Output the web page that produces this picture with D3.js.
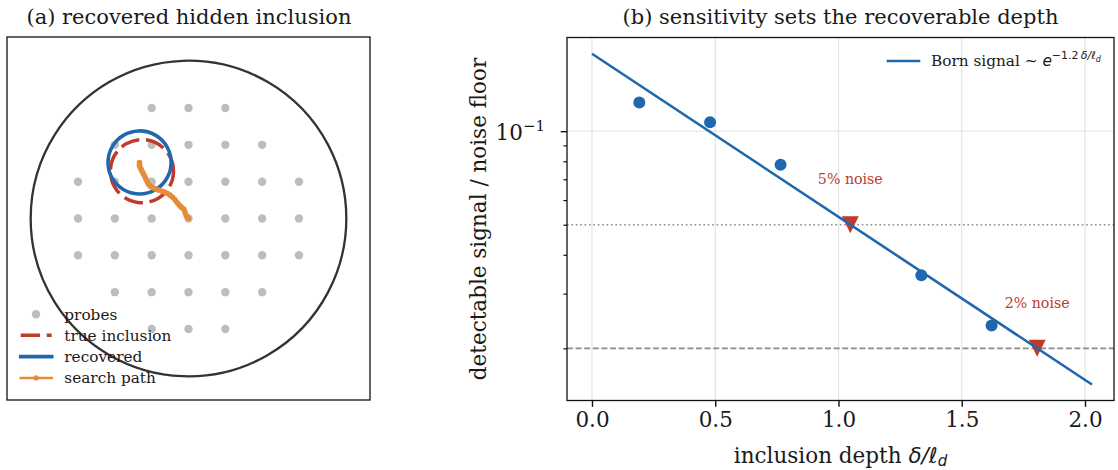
<!DOCTYPE html>
<html>
<head>
<meta charset="utf-8">
<script src="https://cdn.jsdelivr.net/npm/d3@7"></script>
<style>
  body { margin: 0; background: #fff; }
  svg { display: block; }
  text { font-family: "DejaVu Serif", serif; fill: #1a1a1a; }
</style>
</head>
<body>
<svg id="fig" width="1118" height="470"></svg>
<script>
// ---------- panel (a): probe layout and recovered inclusion ----------
const probeX = [
  -0.2333, 0, 0.2333,
  -0.4667, -0.2333, 0, 0.2333, 0.4667,
  -0.7, -0.4667, -0.2333, 0, 0.2333, 0.4667, 0.7,
  -0.7, -0.4667, -0.2333, 0, 0.2333, 0.4667, 0.7,
  -0.7, -0.4667, -0.2333, 0, 0.2333, 0.4667, 0.7,
  -0.4667, -0.2333, 0, 0.2333, 0.4667,
  -0.2333, 0, 0.2333
];
const probeY = [
  0.7, 0.7, 0.7,
  0.4667, 0.4667, 0.4667, 0.4667, 0.4667,
  0.2333, 0.2333, 0.2333, 0.2333, 0.2333, 0.2333, 0.2333,
  0, 0, 0, 0, 0, 0, 0,
  -0.2333, -0.2333, -0.2333, -0.2333, -0.2333, -0.2333, -0.2333,
  -0.4667, -0.4667, -0.4667, -0.4667, -0.4667,
  -0.7, -0.7, -0.7
];
const domainCircle = [0, 0, 1.0];          // cx, cy, r
const trueInclusion = [-0.295, 0.30, 0.20];
const recoveredInclusion = [-0.31, 0.355, 0.20];
const pathX = [0, -0.008, -0.016, -0.022, -0.029, -0.039, -0.049, -0.060, -0.071, -0.085, -0.100, -0.117, -0.134,
               -0.152, -0.170, -0.191, -0.212, -0.229, -0.244, -0.254, -0.261, -0.269, -0.276, -0.285, -0.293,
               -0.300, -0.307, -0.311, -0.31];
const pathY = [0, 0.010, 0.022, 0.040, 0.058, 0.066, 0.075, 0.087, 0.100, 0.118, 0.134, 0.148, 0.160,
               0.168, 0.174, 0.181, 0.189, 0.197, 0.206, 0.219, 0.233, 0.249, 0.265, 0.281, 0.297,
               0.311, 0.324, 0.338, 0.355];
const legendA = ["probes", "true inclusion", "recovered", "search path"];

// ---------- panel (b): signal versus inclusion depth ----------
const bornDepth = [0, 2.028];
const bornSignal = [0.1775, 0.0153];
const measuredDepth = [0.192, 0.479, 0.765, 1.336, 1.621];
const measuredSignal = [0.1237, 0.1069, 0.078, 0.0344, 0.0237];
const noiseLevel = [0.05, 0.02];
const noiseLabel = ["5% noise", "2% noise"];
const crossingDepth = [1.048, 1.806];
const xTicks = [0, 0.5, 1.0, 1.5, 2.0];
const yMajorTicks = [0.1];
const yMinorTicks = [0.02, 0.03, 0.04, 0.05, 0.06, 0.07, 0.08, 0.09];

const BLUE = "#2068ae", RED = "#c0392b", ORANGE = "#e68c37", GREY = "#bdbdbd";
const svg = d3.select("#fig");

// ===== panel (a) =====
const A = { l: 7, r: 370, t: 37, b: 400 };
const ax = d3.scaleLinear().domain([-1.15, 1.15]).range([A.l, A.r]);
const ay = d3.scaleLinear().domain([-1.15, 1.15]).range([A.b, A.t]);
const ga = svg.append("g");

ga.append("text").attr("x", (A.l + A.r) / 2 + 0.5).attr("y", 23.5)
  .attr("text-anchor", "middle").style("font-size", "21px")
  .text("(a) recovered hidden inclusion");

ga.selectAll("circle.probe").data(probeX).join("circle").attr("class", "probe")
  .attr("cx", (d) => ax(d)).attr("cy", (d, i) => ay(probeY[i])).attr("r", 4.2)
  .attr("fill", GREY);

function ringPath(c) {
  const p = d3.path();
  const cx = ax(c[0]), cy = ay(c[1]), r = ax(c[2]) - ax(0);
  p.moveTo(cx + r, cy);
  p.arc(cx, cy, r, 0, -2 * Math.PI + 1e-6, true);
  p.closePath();
  return p.toString();
}

ga.append("path").attr("d", ringPath(domainCircle)).attr("fill", "none")
  .attr("stroke", "#333").attr("stroke-width", 2.3);
ga.append("path").attr("d", ringPath(trueInclusion)).attr("fill", "none")
  .attr("stroke", RED).attr("stroke-width", 3.5).attr("stroke-dasharray", "19.3,6.7");
ga.append("path").attr("d", ringPath(recoveredInclusion)).attr("fill", "none")
  .attr("stroke", BLUE).attr("stroke-width", 3.6);

const pathLine = d3.line().x((d) => ax(d)).y((d, i) => ay(pathY[i])).curve(d3.curveLinear);
ga.append("path").attr("d", pathLine(pathX)).attr("fill", "none")
  .attr("stroke", ORANGE).attr("stroke-width", 3.2).attr("stroke-linejoin", "round");
ga.selectAll("circle.step").data(pathX).join("circle").attr("class", "step")
  .attr("cx", (d) => ax(d)).attr("cy", (d, i) => ay(pathY[i])).attr("r", 2.8)
  .attr("fill", ORANGE);

ga.append("rect").attr("x", A.l).attr("y", A.t).attr("width", A.r - A.l).attr("height", A.b - A.t)
  .attr("fill", "none").attr("stroke", "#111").attr("stroke-width", 1.3);

// legend (a)
const legA = ga.append("g");
const rowY = [314.3, 335.3, 356.6, 377.9];
legA.append("circle").attr("cx", 36).attr("cy", rowY[0]).attr("r", 4.2).attr("fill", GREY);
legA.append("line").attr("x1", 20.7).attr("x2", 51.7).attr("y1", rowY[1]).attr("y2", rowY[1])
  .attr("stroke", RED).attr("stroke-width", 3.5).attr("stroke-dasharray", "19.3,6.7");
legA.append("line").attr("x1", 20.7).attr("x2", 51.7).attr("y1", rowY[2]).attr("y2", rowY[2])
  .attr("stroke", BLUE).attr("stroke-width", 3.6).attr("stroke-linecap", "square");
legA.append("line").attr("x1", 20.7).attr("x2", 51.7).attr("y1", rowY[3]).attr("y2", rowY[3])
  .attr("stroke", ORANGE).attr("stroke-width", 2.5).attr("stroke-linecap", "square");
legA.append("circle").attr("cx", 36.2).attr("cy", rowY[3]).attr("r", 2.6).attr("fill", ORANGE);
legA.selectAll("text").data(legendA).join("text")
  .attr("x", 64.3).attr("y", (d, i) => rowY[i] + 5.3).style("font-size", "15.3px").text((d) => d);

// ===== panel (b) =====
const B = { l: 567, r: 1114, t: 37.5, b: 400.5 };
const bx = d3.scaleLinear().domain([-0.1014, 2.1176]).range([B.l, B.r]);
const by = d3.scaleLog().domain([0.01359, 0.2002]).range([B.b, B.t]);
const gb = svg.append("g");

gb.append("text").attr("x", (B.l + B.r) / 2).attr("y", 23.5)
  .attr("text-anchor", "middle").style("font-size", "21px")
  .text("(b) sensitivity sets the recoverable depth");

// grid
gb.selectAll("line.vgrid").data(xTicks).join("line").attr("class", "vgrid")
  .attr("x1", (d) => bx(d)).attr("x2", (d) => bx(d)).attr("y1", B.t).attr("y2", B.b)
  .attr("stroke", "#e6e6e6").attr("stroke-width", 1.3);
gb.selectAll("line.hgrid").data(yMajorTicks).join("line").attr("class", "hgrid")
  .attr("x1", B.l).attr("x2", B.r).attr("y1", (d) => by(d)).attr("y2", (d) => by(d))
  .attr("stroke", "#e6e6e6").attr("stroke-width", 1.3);

// noise floors
gb.selectAll("line.floor").data(noiseLevel).join("line").attr("class", "floor")
  .attr("x1", B.l).attr("x2", B.r).attr("y1", (d) => by(d)).attr("y2", (d) => by(d))
  .attr("stroke", "#8c8c8c").attr("stroke-width", 1.6)
  .attr("stroke-dasharray", (d, i) => (i === 0 ? "1.6,2.8" : "6,2.6"));

// crossing markers (downward triangles at the noise floor)
gb.selectAll("path.cross").data(crossingDepth).join("path").attr("class", "cross")
  .attr("d", "M-8.5,-8.5L8.5,-8.5L0,8.5Z")
  .attr("transform", (d, i) => `translate(${bx(d)},${by(noiseLevel[i])})`)
  .attr("fill", RED);

// Born approximation line
const bornLine = d3.line().x((d) => bx(d)).y((d, i) => by(bornSignal[i]));
gb.append("path").attr("d", bornLine(bornDepth)).attr("fill", "none")
  .attr("stroke", BLUE).attr("stroke-width", 2.6);

// measured thresholds
gb.selectAll("circle.meas").data(measuredDepth).join("circle").attr("class", "meas")
  .attr("cx", (d) => bx(d)).attr("cy", (d, i) => by(measuredSignal[i])).attr("r", 6)
  .attr("fill", BLUE);

// annotations
gb.selectAll("text.note").data(noiseLabel).join("text").attr("class", "note")
  .attr("x", (d, i) => bx(crossingDepth[i])).attr("y", (d, i) => by(noiseLevel[i] * 1.4) + 5)
  .attr("text-anchor", "middle").style("font-size", "14.2px").style("fill", RED)
  .text((d) => d);

// axes frame
gb.append("rect").attr("x", B.l).attr("y", B.t).attr("width", B.r - B.l).attr("height", B.b - B.t)
  .attr("fill", "none").attr("stroke", "#111").attr("stroke-width", 1.3);

// x axis
const xAxis = d3.axisBottom(bx).tickValues(xTicks).tickFormat(d3.format(".1f"))
  .tickSize(6.3).tickPadding(5);
const gx = gb.append("g").attr("transform", `translate(0,${B.b})`).call(xAxis);
gx.select(".domain").remove();
gx.selectAll(".tick line").attr("stroke", "#111").attr("stroke-width", 1.4);
gx.selectAll(".tick text").style("font-family", "DejaVu Serif").style("font-size", "21.5px")
  .attr("fill", "#1a1a1a").attr("dy", "0.71em");

// y axis (log): major and minor ticks
const gy = gb.append("g").attr("transform", `translate(${B.l},0)`);
const yAxisMinor = d3.axisLeft(by).tickValues(yMinorTicks).tickFormat("").tickSize(3.6);
gy.append("g").call(yAxisMinor).call((g) => g.select(".domain").remove())
  .selectAll(".tick line").attr("stroke", "#111").attr("stroke-width", 1.2);
const yAxisMajor = d3.axisLeft(by).tickValues(yMajorTicks).tickFormat("").tickSize(6.3);
const gyMaj = gy.append("g").call(yAxisMajor).call((g) => g.select(".domain").remove());
gyMaj.selectAll(".tick line").attr("stroke", "#111").attr("stroke-width", 1.4);
gyMaj.selectAll(".tick").each(function (d) {
  const t = d3.select(this).append("text").attr("x", -22).attr("y", 8.3)
    .attr("text-anchor", "end").style("font-size", "21.5px").attr("fill", "#1a1a1a");
  t.append("tspan").text("10");
  t.append("tspan").attr("dy", -9).style("font-size", "15px").text("\u2212" + Math.round(-Math.log10(d)));
});

// axis labels
const xl = gb.append("text").attr("x", (B.l + B.r) / 2).attr("y", 462.5)
  .attr("text-anchor", "middle").style("font-size", "21.5px");
xl.append("tspan").text("inclusion depth ");
xl.append("tspan").style("font-family", "DejaVu Sans").style("font-style", "italic").text("\u03b4/\u2113");
xl.append("tspan").attr("dy", 3).style("font-family", "DejaVu Sans").style("font-style", "italic")
  .style("font-size", "15px").text("d");

gb.append("text").attr("transform", `translate(486,${(B.t + B.b) / 2}) rotate(-90)`)
  .attr("text-anchor", "middle").style("font-size", "21.5px")
  .text("detectable signal / noise floor");

// legend (b)
const legB = gb.append("g");
legB.append("line").attr("x1", 888).attr("x2", 919).attr("y1", 61).attr("y2", 61)
  .attr("stroke", BLUE).attr("stroke-width", 2.6).attr("stroke-linecap", "square");
const lt = legB.append("text").attr("x", 931).attr("y", 66).style("font-size", "15.3px");
lt.append("tspan").text("Born signal ");
lt.append("tspan").style("font-family", "DejaVu Sans").text(" ~ ");
lt.append("tspan").style("font-family", "DejaVu Sans").style("font-style", "italic").text("e");
lt.append("tspan").attr("dy", -7).style("font-family", "DejaVu Sans").style("font-size", "11px").text("\u22121.2\u2009");
lt.append("tspan").style("font-family", "DejaVu Sans").style("font-style", "italic").style("font-size", "11px").text("\u03b4/\u2113");
lt.append("tspan").attr("dy", 2.5).style("font-family", "DejaVu Sans").style("font-style", "italic").style("font-size", "8px").text("d");
</script>
</body>
</html>
